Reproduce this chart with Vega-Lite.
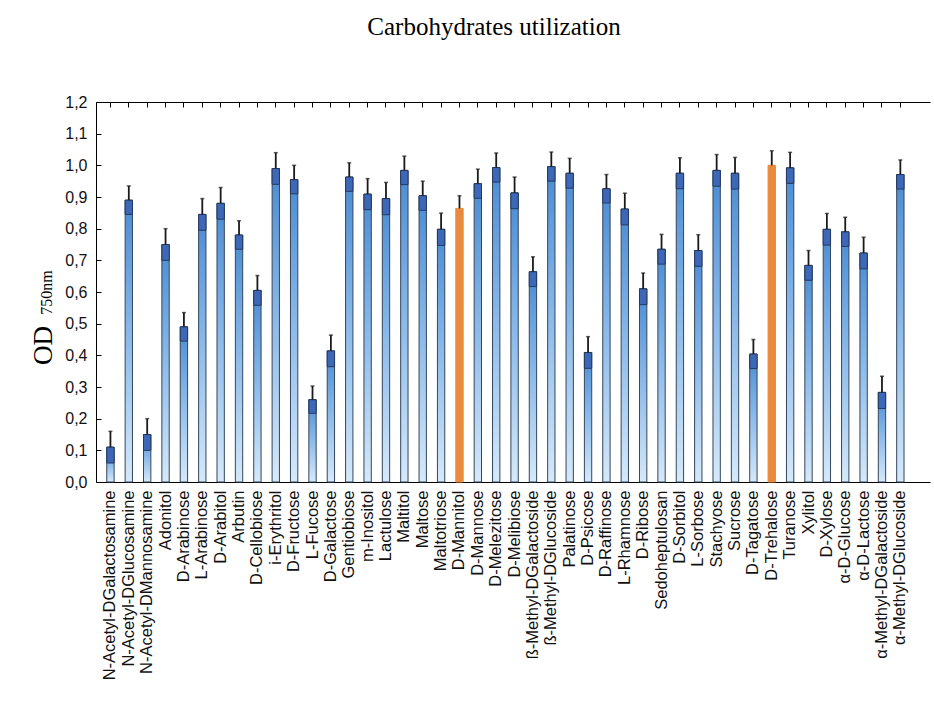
{
  "$schema": "https://vega.github.io/schema/vega-lite/v6.json",
  "width": 834,
  "height": 380,
  "autosize": {"type": "none"},
  "padding": {"left": 96, "top": 102, "right": 4, "bottom": 229},
  "title": {"text": "Carbohydrates utilization", "font": "Liberation Serif", "fontSize": 25, "fontWeight": "normal", "color": "#000000", "anchor": "middle", "dx": -19, "offset": 34, "baseline": "alphabetic"},
  "config": {"view": {"stroke": null}, "axis": {"grid": false}},
  "data": {"values": [
    {"name": "N-Acetyl-DGalactosamine", "od": 0.11, "lo": 0.06, "hi": 0.16, "hl": 0},
    {"name": "N-Acetyl-DGlucosamine", "od": 0.89, "lo": 0.845, "hi": 0.935, "hl": 0},
    {"name": "N-Acetyl-DMannosamine", "od": 0.15, "lo": 0.10, "hi": 0.20, "hl": 0},
    {"name": "Adonitol", "od": 0.75, "lo": 0.70, "hi": 0.80, "hl": 0},
    {"name": "D-Arabinose", "od": 0.49, "lo": 0.445, "hi": 0.535, "hl": 0},
    {"name": "L-Arabinose", "od": 0.845, "lo": 0.795, "hi": 0.895, "hl": 0},
    {"name": "D-Arabitol", "od": 0.88, "lo": 0.83, "hi": 0.93, "hl": 0},
    {"name": "Arbutin", "od": 0.78, "lo": 0.735, "hi": 0.825, "hl": 0},
    {"name": "D-Cellobiose", "od": 0.605, "lo": 0.558, "hi": 0.652, "hl": 0},
    {"name": "i-Erythritol", "od": 0.99, "lo": 0.94, "hi": 1.04, "hl": 0},
    {"name": "D-Fructose", "od": 0.955, "lo": 0.91, "hi": 1.0, "hl": 0},
    {"name": "L-Fucose", "od": 0.26, "lo": 0.217, "hi": 0.303, "hl": 0},
    {"name": "D-Galactose", "od": 0.414, "lo": 0.364, "hi": 0.464, "hl": 0},
    {"name": "Gentiobiose", "od": 0.963, "lo": 0.918, "hi": 1.008, "hl": 0},
    {"name": "m-Inositol", "od": 0.909, "lo": 0.86, "hi": 0.958, "hl": 0},
    {"name": "Lactulose", "od": 0.895, "lo": 0.844, "hi": 0.946, "hl": 0},
    {"name": "Maltitol", "od": 0.984, "lo": 0.939, "hi": 1.029, "hl": 0},
    {"name": "Maltose", "od": 0.904, "lo": 0.858, "hi": 0.95, "hl": 0},
    {"name": "Maltotriose", "od": 0.798, "lo": 0.747, "hi": 0.849, "hl": 0},
    {"name": "D-Mannitol", "od": 0.864, "lo": 0.824, "hi": 0.904, "hl": 1},
    {"name": "D-Mannose", "od": 0.942, "lo": 0.896, "hi": 0.988, "hl": 0},
    {"name": "D-Melezitose", "od": 0.993, "lo": 0.947, "hi": 1.039, "hl": 0},
    {"name": "D-Melibiose", "od": 0.913, "lo": 0.863, "hi": 0.963, "hl": 0},
    {"name": "ß-Methyl-DGalactoside", "od": 0.664, "lo": 0.617, "hi": 0.711, "hl": 0},
    {"name": "ß-Methyl-DGlucoside", "od": 0.996, "lo": 0.95, "hi": 1.042, "hl": 0},
    {"name": "Palatinose", "od": 0.975, "lo": 0.928, "hi": 1.022, "hl": 0},
    {"name": "D-Psicose", "od": 0.409, "lo": 0.359, "hi": 0.459, "hl": 0},
    {"name": "D-Raffinose", "od": 0.926, "lo": 0.881, "hi": 0.971, "hl": 0},
    {"name": "L-Rhamnose", "od": 0.862, "lo": 0.812, "hi": 0.912, "hl": 0},
    {"name": "D-Ribose", "od": 0.61, "lo": 0.56, "hi": 0.66, "hl": 0},
    {"name": "Sedoheptulosan", "od": 0.735, "lo": 0.688, "hi": 0.782, "hl": 0},
    {"name": "D-Sorbitol", "od": 0.975, "lo": 0.926, "hi": 1.024, "hl": 0},
    {"name": "L-Sorbose", "od": 0.731, "lo": 0.681, "hi": 0.781, "hl": 0},
    {"name": "Stachyose", "od": 0.984, "lo": 0.934, "hi": 1.034, "hl": 0},
    {"name": "Sucrose", "od": 0.975, "lo": 0.925, "hi": 1.025, "hl": 0},
    {"name": "D-Tagatose", "od": 0.404, "lo": 0.358, "hi": 0.45, "hl": 0},
    {"name": "D-Trehalose", "od": 1.0, "lo": 0.954, "hi": 1.046, "hl": 1},
    {"name": "Turanose", "od": 0.992, "lo": 0.943, "hi": 1.041, "hl": 0},
    {"name": "Xylitol", "od": 0.684, "lo": 0.637, "hi": 0.731, "hl": 0},
    {"name": "D-Xylose", "od": 0.798, "lo": 0.748, "hi": 0.848, "hl": 0},
    {"name": "α-D-Glucose", "od": 0.79, "lo": 0.744, "hi": 0.836, "hl": 0},
    {"name": "α-D-Lactose", "od": 0.723, "lo": 0.673, "hi": 0.773, "hl": 0},
    {"name": "α-Methyl-DGalactoside", "od": 0.283, "lo": 0.232, "hi": 0.334, "hl": 0},
    {"name": "α-Methyl-DGlucoside", "od": 0.971, "lo": 0.925, "hi": 1.017, "hl": 0}
  ]},
  "layer": [
    {
      "mark": {"type": "bar", "strokeWidth": 1},
      "encoding": {
        "x": {"field": "name", "type": "nominal", "sort": null,
              "scale": {"paddingInner": 0.6, "paddingOuter": 1.33, "align": 0.293, "round": false},
              "axis": {"orient": "bottom", "title": null, "labelAngle": -90, "labelAlign": "right", "labelBaseline": "middle",
                       "labelFont": "Liberation Sans", "labelFontSize": 16.5, "labelColor": "#111111", "labelPadding": 13,
                       "labelOverlap": false, "labelLimit": 400, "tickSize": -5, "tickColor": "#000000", "domainColor": "#000000"}},
        "y": {"field": "od", "type": "quantitative",
              "scale": {"domain": [0, 1.2], "nice": false, "zero": true},
              "axis": {"orient": "left", "values": [0, 0.1, 0.2, 0.3, 0.4, 0.5, 0.6, 0.7, 0.8, 0.9, 1.0, 1.1, 1.2],
                       "labelExpr": "replace(format(datum.value, '.1f'), '.', ',')",
                       "labelFont": "Liberation Sans", "labelFontSize": 16, "labelColor": "#111111", "labelPadding": 14,
                       "tickSize": -5, "tickColor": "#000000", "domainColor": "#000000",
                       "title": "OD", "titleFont": "Liberation Serif", "titleFontSize": 27, "titleFontWeight": "normal",
                       "titleColor": "#000000", "titleX": -45, "titleY": 243, "titleBaseline": "alphabetic", "titleAngle": 270}},
        "fill": {"condition": {"test": "datum.hl == 1", "value": "#ea8a3c"},
                 "value": {"gradient": "linear", "x1": 0, "y1": 1, "x2": 0, "y2": 0,
                           "stops": [{"offset": 0, "color": "#d6e9f9"}, {"offset": 0.5, "color": "#8dbbea"}, {"offset": 1, "color": "#4a8bd3"}]}},
        "stroke": {"condition": {"test": "datum.hl == 1", "value": "#ea8a3c"}, "value": "#33465c"}
      }
    },
    {
      "mark": {"type": "bar", "strokeWidth": 1, "fill": "#3d68b8", "stroke": "#24395f"},
      "encoding": {
        "x": {"field": "name", "type": "nominal", "sort": null, "axis": null},
        "y": {"field": "lo", "type": "quantitative", "axis": null},
        "y2": {"field": "od"},
        "opacity": {"condition": {"test": "datum.hl == 1", "value": 0}, "value": 1}
      }
    },
    {
      "mark": {"type": "rule", "color": "#1a1a1a", "strokeWidth": 1.8},
      "encoding": {
        "x": {"field": "name", "type": "nominal", "sort": null,
              "axis": {"orient": "top", "title": null, "labels": false, "tickSize": -5, "tickColor": "#000000", "domainColor": "#000000"}},
        "y": {"field": "od", "type": "quantitative",
              "axis": {"orient": "left", "title": "750nm", "titleFont": "Liberation Serif", "titleFontSize": 16, "titleFontWeight": "normal",
                       "titleColor": "#000000", "titleX": -45, "titleY": 190, "titleBaseline": "alphabetic", "titleAngle": 270,
                       "domain": false, "labels": false, "ticks": false}},
        "y2": {"field": "hi"}
      }
    },
    {
      "mark": {"type": "tick", "color": "#1a1a1a", "thickness": 1.5, "size": 4, "orient": "horizontal"},
      "encoding": {
        "x": {"field": "name", "type": "nominal", "sort": null, "axis": null},
        "y": {"field": "hi", "type": "quantitative", "axis": null}
      }
    }
  ],
  "resolve": {"axis": {"x": "independent", "y": "independent"}}
}
